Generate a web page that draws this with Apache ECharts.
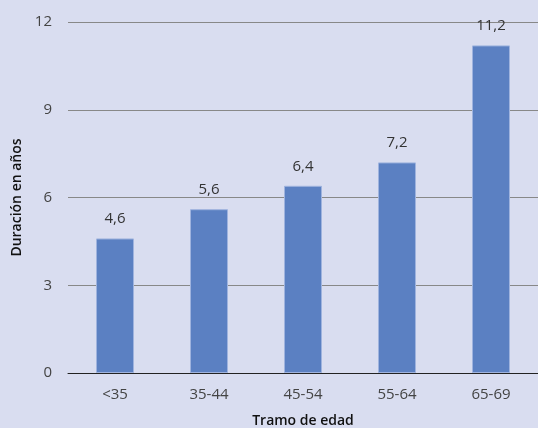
<!DOCTYPE html>
<html>
<head>
<meta charset="utf-8">
<script src="https://cdn.jsdelivr.net/npm/echarts@6/dist/echarts.min.js"></script>
<style>
html,body{margin:0;padding:0;background:#d9ddf0;}
#chart{width:538px;height:428px;}
</style>
</head>
<body>
<div id="chart"></div>
<script>
var categories = ['<35', '35-44', '45-54', '55-64', '65-69'];
var values = [4.6, 5.6, 6.4, 7.2, 11.2];
var yTicks = [0, 3, 6, 9, 12];

var myChart = echarts.init(document.getElementById('chart'));
var option = {
    backgroundColor: '#d9ddf0',
    textStyle: { fontFamily: 'Open Sans' },
    grid: { left: 68, right: 0, top: 22, bottom: 55, outerBoundsMode: 'none' },
    xAxis: {
        type: 'category',
        data: categories,
        name: 'Tramo de edad',
        nameLocation: 'middle',
        nameGap: 41,
        nameTextStyle: { color: '#111', fontSize: 14, fontWeight: 600 },
        axisLine: { lineStyle: { color: '#222', width: 1 } },
        axisTick: { show: false },
        axisLabel: { color: '#444', fontSize: 15, margin: 14 }
    },
    yAxis: {
        type: 'value',
        min: yTicks[0],
        max: yTicks[yTicks.length - 1],
        interval: 3,
        name: 'Duración en años',
        nameLocation: 'middle',
        nameGap: 44,
        nameTextStyle: { color: '#111', fontSize: 14, fontWeight: 600 },
        axisLine: { show: false },
        axisTick: { show: false },
        axisLabel: { color: '#444', fontSize: 15, margin: 16 },
        splitLine: { lineStyle: { color: '#888', width: 1 } }
    },
    series: [{
        type: 'bar',
        data: values,
        barWidth: 38,
        itemStyle: { color: '#5b80c2', borderColor: '#9fb3de', borderWidth: 1 },
        label: {
            show: true,
            position: 'top',
            distance: 12,
            color: '#333',
            fontSize: 15,
            formatter: function (p) { return String(p.value).replace('.', ','); }
        }
    }]
};
myChart.setOption(option);
</script>
</body>
</html>
